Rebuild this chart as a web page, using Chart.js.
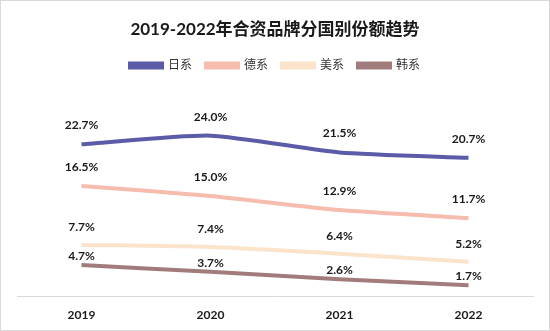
<!DOCTYPE html>
<html>
<head>
<meta charset="utf-8">
<script src="https://cdn.jsdelivr.net/npm/chart.js@4"></script>
<style>
  html, body { margin: 0; padding: 0; background: #fff; }
  #wrap { width: 548px; height: 329px; border: 1px solid #d9d9d9; position: relative; }
  canvas { display: block; }
</style>
</head>
<body>
<div id="wrap"><canvas id="shareChart" width="548" height="329"></canvas></div>
<script>
const years = ['2019', '2020', '2021', '2022'];
const japan = [22.7, 24.0, 21.5, 20.7];
const germany = [16.5, 15.0, 12.9, 11.7];
const usa = [7.7, 7.4, 6.4, 5.2];
const korea = [4.7, 3.7, 2.6, 1.7];

const FONT = 'Lato, "Noto Sans CJK SC", sans-serif';

// draw value labels above each point
const valueLabels = {
    id: 'valueLabels',
    afterDatasetsDraw(chart) {
        const c = chart.ctx;
        c.save();
        c.font = 'bold 12px ' + FONT;
        c.fillStyle = '#1a1a1a';
        c.textAlign = 'center';
        c.textBaseline = 'middle';
        chart.data.datasets.forEach((ds, i) => {
            const meta = chart.getDatasetMeta(i);
            meta.data.forEach((pt, j) => {
                c.fillText(ds.data[j].toFixed(1) + '%', pt.x, pt.y - ds.labelGap);
            });
        });
        c.restore();
    }
};

// extra room under the legend
const legendGap = {
    id: 'legendGap',
    beforeInit(chart) {
        const fit = chart.legend.fit;
        chart.legend.fit = function () {
            fit.bind(chart.legend)();
            this.height += 14;
        };
    }
};

function series(label, data, color, gap) {
    return {
        label: label,
        data: data,
        borderColor: color,
        backgroundColor: color,
        borderWidth: 4,
        pointRadius: 0,
        tension: 0.2,
        labelGap: gap
    };
}

new Chart(document.getElementById('shareChart'), {
    type: 'line',
    data: {
        labels: years,
        datasets: [
            series('日系', japan, '#5b5ba8', 19),
            series('德系', germany, '#f6bcad', 19),
            series('美系', usa, '#fbe3cc', 18),
            series('韩系', korea, '#a27c7c', 9)
        ]
    },
    options: {
        responsive: false,
        animation: false,
        layout: { padding: { left: 16, right: 16, top: 0, bottom: 5 } },
        plugins: {
            title: {
                display: true,
                text: '2019-2022年合资品牌分国别份额趋势',
                color: '#1a1a1a',
                font: { family: FONT, size: 17, weight: 'bold' },
                padding: { top: 18, bottom: 6 }
            },
            legend: {
                labels: {
                    boxWidth: 32,
                    boxHeight: 4,
                    color: '#333',
                    font: { family: FONT, size: 12 },
                    padding: 14
                }
            },
            tooltip: { enabled: false }
        },
        scales: {
            x: {
                offset: true,
                grid: { display: false, offset: true },
                border: { color: '#d9d9d9', width: 1 },
                ticks: {
                    color: '#1a1a1a',
                    font: { family: FONT, size: 12, weight: 'bold' },
                    padding: 3
                }
            },
            y: {
                display: false,
                min: 0,
                max: 30
            }
        }
    },
    plugins: [valueLabels, legendGap]
});
</script>
</body>
</html>
